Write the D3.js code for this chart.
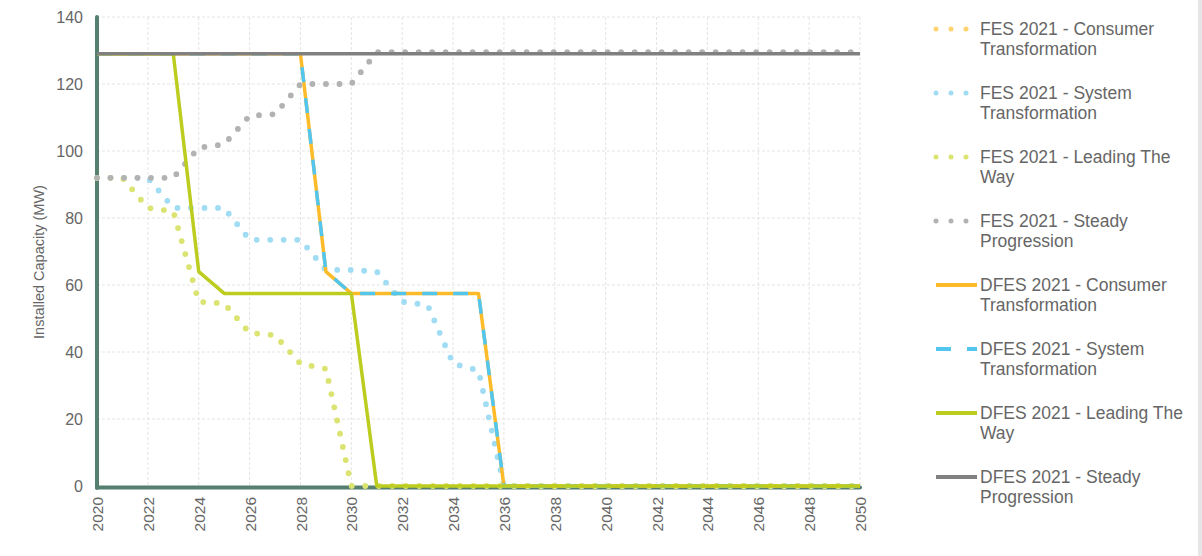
<!DOCTYPE html>
<html>
<head>
<meta charset="utf-8">
<script src="https://cdn.jsdelivr.net/npm/d3@7"></script>
<style>
  body { margin: 0; background: #fff; }
  text { font-family: Arial, "Liberation Sans", sans-serif; fill: #666; }
</style>
</head>
<body>
<div id="chart"></div>
<script>
// data (MW per year)
var years = [2020,2021,2022,2023,2024,2025,2026,2027,2028,2029,2030,2031,2032,2033,2034,2035,
             2036,2037,2038,2039,2040,2041,2042,2043,2044,2045,2046,2047,2048,2049,2050];
var fesConsumer = [];   // no visible values in the chart
var fesSystem  = [92,92,92,83,83,83,73.5,73.5,73.5,64.5,64.5,64,55,54,36.5,34.5,
                  0,0,0,0,0,0,0,0,0,0,0,0,0,0,0];
var fesLeading = [92,92,83,82,55,54.5,45.7,45,36.5,35,0,0,0,0,0,0,
                  0,0,0,0,0,0,0,0,0,0,0,0,0,0,0];
var fesSteady  = [92,92,92,92,101,102,110.5,111,120,120,120,129.5,129.5,129.5,129.5,129.5,
                  129.5,129.5,129.5,129.5,129.5,129.5,129.5,129.5,129.5,129.5,129.5,129.5,129.5,129.5,129.5];
var dfesConsumer = [129,129,129,129,129,129,129,129,129,64,57.5,57.5,57.5,57.5,57.5,57.5,
                    0,0,0,0,0,0,0,0,0,0,0,0,0,0,0];
var dfesSystem   = [129,129,129,129,129,129,129,129,129,64,57.5,57.5,57.5,57.5,57.5,57.5,
                    0,0,0,0,0,0,0,0,0,0,0,0,0,0,0];
var dfesLeading  = [129,129,129,129,64,57.5,57.5,57.5,57.5,57.5,57.5,0,0,0,0,0,
                    0,0,0,0,0,0,0,0,0,0,0,0,0,0,0];
var dfesSteady   = [129,129,129,129,129,129,129,129,129,129,129,129,129,129,129,129,
                    129,129,129,129,129,129,129,129,129,129,129,129,129,129,129];
var xTicks = [2020,2022,2024,2026,2028,2030,2032,2034,2036,2038,2040,2042,2044,2046,2048,2050];
var yTicks = [0,20,40,60,80,100,120,140];

var series = [
  {name: ["FES 2021 - Consumer", "Transformation"], values: fesConsumer, color: "#ffd46e", type: "dot"},
  {name: ["FES 2021 - System", "Transformation"], values: fesSystem, color: "#a0dcf3", type: "dot"},
  {name: ["FES 2021 - Leading The", "Way"], values: fesLeading, color: "#dbe371", type: "dot"},
  {name: ["FES 2021 - Steady", "Progression"], values: fesSteady, color: "#b2b2b2", type: "dot"},
  {name: ["DFES 2021 - Consumer", "Transformation"], values: dfesConsumer, color: "#fdbb2a", type: "solid"},
  {name: ["DFES 2021 - System", "Transformation"], values: dfesSystem, color: "#52c6ee", type: "dash"},
  {name: ["DFES 2021 - Leading The", "Way"], values: dfesLeading, color: "#bccd1f", type: "solid"},
  {name: ["DFES 2021 - Steady", "Progression"], values: dfesSteady, color: "#808080", type: "solid"}
];

var W = 1202, H = 556;
var margin = {top: 17, right: 342, bottom: 70, left: 97};
var svg = d3.select("#chart").append("svg")
    .attr("width", W)
    .attr("height", H);

var x = d3.scaleLinear().domain([2020, 2050]).range([margin.left, 860]);
var y = d3.scaleLinear().domain([0, 140]).range([486, margin.top]);

// grid
svg.append("g").selectAll("line").data(yTicks.slice(1)).enter().append("line")
    .attr("x1", x(2020)).attr("x2", x(2050))
    .attr("y1", d => y(d)).attr("y2", d => y(d))
    .attr("stroke", "#e4e4e4").attr("stroke-dasharray", "3,2");
svg.append("g").selectAll("line").data(xTicks.slice(1)).enter().append("line")
    .attr("x1", d => x(d)).attr("x2", d => x(d))
    .attr("y1", y(140)).attr("y2", y(0))
    .attr("stroke", "#e4e4e4").attr("stroke-dasharray", "3,2");

// axes lines
svg.append("line")
    .attr("x1", x(2020)).attr("x2", x(2020))
    .attr("y1", y(140)).attr("y2", y(0) + 2)
    .attr("stroke", "#557f6e").attr("stroke-width", 4).attr("stroke-linecap", "round");
svg.append("line")
    .attr("x1", x(2020)).attr("x2", x(2050))
    .attr("y1", y(0) + 1.5).attr("y2", y(0) + 1.5)
    .attr("stroke", "#557f6e").attr("stroke-width", 4).attr("stroke-linecap", "round");

// y axis labels
var yAxis = svg.append("g")
    .attr("transform", "translate(" + x(2020) + ",0)")
    .call(d3.axisLeft(y).tickValues(yTicks).tickSize(0).tickPadding(14));
yAxis.select(".domain").remove();
yAxis.selectAll("text").style("font-size", "16px").attr("fill", "#666");

// x axis labels, rotated
var xAxis = svg.append("g")
    .attr("transform", "translate(0," + y(0) + ")")
    .call(d3.axisBottom(x).tickValues(xTicks).tickSize(0).tickFormat(d3.format("d")));
xAxis.select(".domain").remove();
xAxis.selectAll("text")
    .style("font-size", "15.5px").attr("fill", "#666")
    .attr("text-anchor", "end")
    .attr("transform", "rotate(-90)")
    .attr("x", -11).attr("y", 0).attr("dy", "0.36em");

// y title
svg.append("text")
    .attr("transform", "translate(44," + 262 + ") rotate(-90)")
    .attr("text-anchor", "middle")
    .style("font-size", "14.5px")
    .text("Installed Capacity (MW)");

var line = d3.line()
    .x((d, i) => x(years[i]))
    .y(d => y(d));

function styleLine(sel, s) {
  sel.attr("fill", "none").attr("stroke", s.color);
  if (s.type === "dot") {
    sel.attr("stroke-width", 5.8).attr("stroke-linecap", "round").attr("stroke-dasharray", "0,13.5");
  } else if (s.type === "dash") {
    sel.attr("stroke-width", 3.5).attr("stroke-dasharray", "15,16");
  } else {
    sel.attr("stroke-width", 3.5).attr("stroke-linejoin", "round");
  }
}

series.forEach(function(s) {
  if (!s.values.length) return;
  svg.append("path").datum(s.values).attr("d", line).call(styleLine, s);
});

// legend
var legend = svg.append("g");
series.forEach(function(s, i) {
  var by = 35 + i * 64;
  var sy = by - 6;
  var g = legend.append("g");
  if (s.type === "dot") {
    g.append("path").attr("d", "M936," + sy + "H977").call(styleLine, s)
      .attr("stroke-dasharray", "0,15").attr("stroke-width", 5);
  } else {
    g.append("path").attr("d", "M936," + sy + "H977").call(styleLine, s)
      .attr("stroke-width", 4.2);
  }
  var t = g.append("text").attr("x", 980).attr("y", by).style("font-size", "17.5px");
  t.append("tspan").attr("x", 980).text(s.name[0]);
  t.append("tspan").attr("x", 980).attr("dy", 20).text(s.name[1]);
});

// right frame edge
svg.append("rect").attr("x", 1198).attr("y", 0).attr("width", 4).attr("height", H).attr("fill", "#e6e6e6");
</script>
</body>
</html>
